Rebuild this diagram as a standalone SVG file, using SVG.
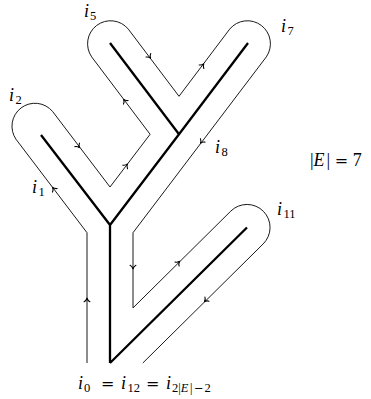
<svg xmlns="http://www.w3.org/2000/svg" width="371" height="399" viewBox="0 0 371 399">
<style>
.bg{fill:#fff}
.tree{fill:none;stroke:#000;stroke-width:2.3;stroke-linejoin:miter;stroke-linecap:butt}
.contour{fill:none;stroke:#000;stroke-width:0.9;stroke-linejoin:miter}
.ah{fill:none;stroke:#000;stroke-width:1.1;stroke-linecap:round}
.t{font-family:"Liberation Serif","DejaVu Serif",serif;font-size:18px;fill:#000}
.it{font-style:italic}
.s{font-size:12.5px}
.eq{font-family:"DejaVu Serif","Liberation Serif",serif;font-size:16px;fill:#000}
.eqs{font-family:"DejaVu Serif","Liberation Serif",serif;font-size:11.5px;fill:#000}
</style>
<defs>
<path id="ah" class="ah" d="M-3.8,-2.9 C-3,-1.3 -1.2,-0.3 0,0 C-1.2,0.3 -3,1.3 -3.8,2.9"/>
</defs>
<rect class="bg" x="0" y="0" width="371" height="399"/>
<g id="tree">
<path class="tree" d="M110,363 L110,225 L41,135 M110,225 L179,134.3 L248,43 M179,134.3 L110,43 M110,363 L247,227.5"/>
</g>
<g id="connectors">
<path class="contour" d="M87,363 L87,232.7 L16.1,139.4 A23,23 0 0 1 52.7,111.6 L110,187 L150.1,134.3 L91.7,56.9 A23,23 0 0 1 128.3,29.1 L179,96.3 L229.7,29.1 A23,23 0 0 1 266.3,56.9 L133,232.7 L133,307.9 L230.8,211.1 A23,23 0 0 1 263.2,243.9 L142.8,363"/>
<use href="#ah" transform="translate(87,298) rotate(-90)"/>
<use href="#ah" transform="translate(52.5,187.3) rotate(-127.2)"/>
<use href="#ah" transform="translate(79.5,147.9) rotate(52.8)"/>
<use href="#ah" transform="translate(127.5,163.9) rotate(-52.8)"/>
<use href="#ah" transform="translate(123.5,99.3) rotate(-127.2)"/>
<use href="#ah" transform="translate(150.7,58.3) rotate(52.8)"/>
<use href="#ah" transform="translate(203.8,63.7) rotate(-52.8)"/>
<use href="#ah" transform="translate(200.4,143.4) rotate(127.2)"/>
<use href="#ah" transform="translate(133,269) rotate(90)"/>
<use href="#ah" transform="translate(179.8,261.3) rotate(-44.7)"/>
<use href="#ah" transform="translate(204.3,301.8) rotate(135.3)"/>
</g>
<g id="label-i5"><text class="t it" x="84" y="17">i</text><text class="t s" x="90" y="20">5</text></g>
<g id="label-i2"><text class="t it" x="9" y="101">i</text><text class="t s" x="15.5" y="104">2</text></g>
<g id="label-i1"><text class="t it" x="32" y="193">i</text><text class="t s" x="38.5" y="196">1</text></g>
<g id="label-i7"><text class="t it" x="281" y="32">i</text><text class="t s" x="287.5" y="35">7</text></g>
<g id="label-i8"><text class="t it" x="215" y="153">i</text><text class="t s" x="221.5" y="156">8</text></g>
<g id="label-i11"><text class="t it" x="277" y="215">i</text><text class="t s" x="283.5" y="218">11</text></g>
<g id="label-E">
<text class="t" x="310" y="166">|<tspan class="it">E</tspan><tspan dx="2">|</tspan><tspan class="eq" dx="4.5">=</tspan><tspan dx="4.5">7</tspan></text>
</g>
<g id="label-root">
<text class="t it" x="78" y="389">i</text><text class="t s" x="84" y="392">0</text>
<text class="eq" x="101" y="389">=</text>
<text class="t it" x="121" y="389">i</text><text class="t s" x="127.5" y="392">12</text>
<text class="eq" x="146" y="389">=</text>
<text class="t it" x="166" y="389">i</text>
<text class="t s" x="172" y="392">2|<tspan class="it">E</tspan><tspan dx="1.5">|</tspan><tspan class="eqs" dx="1.5">−</tspan><tspan dx="1">2</tspan></text>
</g>
</svg>
